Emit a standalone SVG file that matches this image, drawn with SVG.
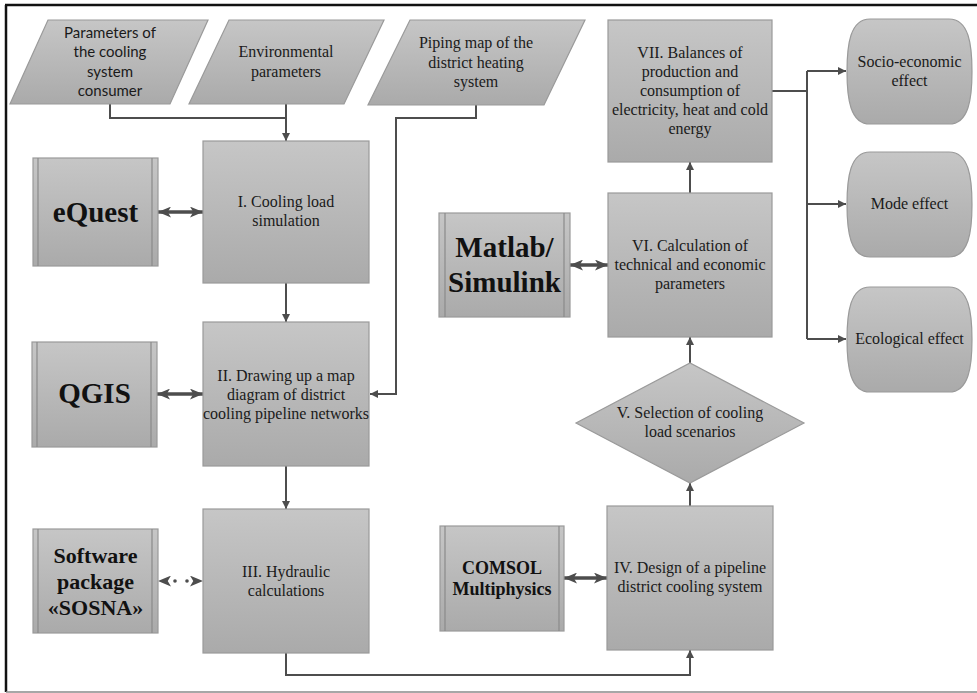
<svg xmlns="http://www.w3.org/2000/svg" width="977" height="693" viewBox="0 0 977 693">
<style>
.box{fill:url(#g);stroke:#9a9a9a;stroke-width:1.2}
.sw{fill:url(#g);stroke:#9a9a9a;stroke-width:1.2}
.in{stroke:#8a8a8a;stroke-width:1.2;fill:none}
.t{font-family:"Liberation Serif","Times New Roman",serif;font-size:16px;fill:#1a1a1a;text-anchor:middle}
.s{font-family:Lato,"Open Sans",sans-serif;font-size:15px;fill:#1a1a1a;text-anchor:middle}
.b{font-family:"Liberation Serif","Times New Roman",serif;font-weight:bold;fill:#111;text-anchor:middle}
.c{fill:none;stroke:#4d4d4d;stroke-width:2}
.d{fill:none;stroke:#4d4d4d;stroke-width:3.5}
</style>
<defs>
<linearGradient id="g" x1="0" y1="0" x2="0" y2="1">
<stop offset="0" stop-color="#c6c6c6"/>
<stop offset="1" stop-color="#aaaaaa"/>
</linearGradient>
<marker id="ah" viewBox="0 0 10 10" refX="10" refY="5" markerWidth="9" markerHeight="8" markerUnits="userSpaceOnUse" orient="auto">
<path d="M0,0 L10,5 L0,10 z" fill="#4d4d4d"/>
</marker>
<marker id="dh" viewBox="0 0 12 10" refX="12" refY="5" markerWidth="13" markerHeight="11" markerUnits="userSpaceOnUse" orient="auto-start-reverse">
<path d="M0,0 L12,5 L0,10 L3,5 z" fill="#4d4d4d"/>
</marker>
<path id="term" d="M23,0 H102 C122,0 125,26 125,52.5 C125,79 122,105 102,105 H23 C3,105 0,79 0,52.5 C0,26 3,0 23,0 Z"/>
</defs>
<rect width="977" height="693" fill="#ffffff"/>
<g id="frame">
<line x1="5" y1="5" x2="977" y2="5" stroke="#111" stroke-width="2.5"/>
<line x1="6" y1="5" x2="6" y2="692" stroke="#111" stroke-width="2.5"/>
<line x1="6" y1="692" x2="977" y2="692" stroke="#8a8a8a" stroke-width="1.5"/>
</g>
<g id="connectors">
<path class="c" d="M110,104 V118 H286"/>
<path class="c" d="M286,104 V141" marker-end="url(#ah)"/>
<path class="c" d="M286,283 V322" marker-end="url(#ah)"/>
<path class="c" d="M286,466 V509" marker-end="url(#ah)"/>
<path class="c" d="M476,105 V118 H396 V394 H370" marker-end="url(#ah)"/>
<path class="c" d="M286,653 V675 H690 V650" marker-end="url(#ah)"/>
<path class="c" d="M690,506 V483" marker-end="url(#ah)"/>
<path class="c" d="M690,363 V337" marker-end="url(#ah)"/>
<path class="c" d="M690,193 V162" marker-end="url(#ah)"/>
<path class="c" d="M772,91 H807"/>
<path class="c" d="M807,71 V339"/>
<path class="c" d="M807,71 H846" marker-end="url(#ah)"/>
<path class="c" d="M807,204 H846" marker-end="url(#ah)"/>
<path class="c" d="M807,339 H846" marker-end="url(#ah)"/>
<path class="d" d="M158,212 H203" marker-start="url(#dh)" marker-end="url(#dh)"/>
<path class="d" d="M157,394 H203" marker-start="url(#dh)" marker-end="url(#dh)"/>
<path class="d" d="M570,265 H608" marker-start="url(#dh)" marker-end="url(#dh)"/>
<path class="d" d="M564,578 H607" marker-start="url(#dh)" marker-end="url(#dh)"/>
<path d="M158,581 H203" stroke="none" fill="none" marker-start="url(#dh)" marker-end="url(#dh)"/>
<circle cx="175" cy="581" r="1.8" fill="#4d4d4d"/>
<circle cx="187" cy="581" r="1.8" fill="#4d4d4d"/>
</g>
<g id="in1">
<polygon class="box" points="48,20 208,20 170,104 10,104"/>
<text class="s" x="110" y="38">Parameters of</text>
<text class="s" x="110" y="57">the cooling</text>
<text class="s" x="110" y="77">system</text>
<text class="s" x="110" y="96">consumer</text>
</g>
<g id="in2">
<polygon class="box" points="229,20 384,20 344,104 189,104"/>
<text class="t" x="286" y="57">Environmental</text>
<text class="t" x="286" y="77">parameters</text>
</g>
<g id="in3">
<polygon class="box" points="410,20 585,20 544,105 368,105"/>
<text class="t" x="476" y="48">Piping map of the</text>
<text class="t" x="476" y="68">district heating</text>
<text class="t" x="476" y="87">system</text>
</g>
<g id="s1">
<rect class="box" x="203" y="141" width="166" height="142"/>
<text class="t" x="286" y="207">I. Cooling load</text>
<text class="t" x="286" y="226">simulation</text>
</g>
<g id="s2">
<rect class="box" x="203" y="322" width="166" height="144"/>
<text class="t" x="286" y="381">II. Drawing up a map</text>
<text class="t" x="286" y="400">diagram of district</text>
<text class="t" x="286" y="419">cooling pipeline networks</text>
</g>
<g id="s3">
<rect class="box" x="203" y="509" width="166" height="144"/>
<text class="t" x="286" y="577">III. Hydraulic</text>
<text class="t" x="286" y="596">calculations</text>
</g>
<g id="s4">
<rect class="box" x="607" y="506" width="166" height="144"/>
<text class="t" x="690" y="573">IV. Design of a pipeline</text>
<text class="t" x="690" y="592">district cooling system</text>
</g>
<g id="s5">
<polygon class="box" points="576,423 690,363 804,423 690,483"/>
<text class="t" x="690" y="418">V. Selection of cooling</text>
<text class="t" x="690" y="437">load scenarios</text>
</g>
<g id="s6">
<rect class="box" x="608" y="193" width="164" height="144"/>
<text class="t" x="690" y="251">VI. Calculation of</text>
<text class="t" x="690" y="270">technical and economic</text>
<text class="t" x="690" y="289">parameters</text>
</g>
<g id="s7">
<rect class="box" x="608" y="20" width="164" height="142"/>
<text class="t" x="690" y="58">VII. Balances of</text>
<text class="t" x="690" y="77">production and</text>
<text class="t" x="690" y="96">consumption of</text>
<text class="t" x="690" y="115">electricity, heat and cold</text>
<text class="t" x="690" y="134">energy</text>
</g>
<g id="equest">
<rect class="sw" x="33" y="158" width="125" height="108"/>
<path class="in" d="M38,158 V266 M152,158 V266"/>
<text class="b" x="95.5" y="222" font-size="29">eQuest</text>
</g>
<g id="qgis">
<rect class="sw" x="32" y="342" width="125" height="105"/>
<path class="in" d="M37,342 V447 M151,342 V447"/>
<text class="b" x="94.5" y="403" font-size="29">QGIS</text>
</g>
<g id="sosna">
<rect class="sw" x="33" y="529" width="125" height="104"/>
<path class="in" d="M38,529 V633 M152,529 V633"/>
<text class="b" x="95.5" y="563" font-size="22">Software</text>
<text class="b" x="95.5" y="589" font-size="22">package</text>
<text class="b" x="95.5" y="615" font-size="22">«SOSNA»</text>
</g>
<g id="matlab">
<rect class="sw" x="439" y="213" width="131" height="104"/>
<path class="in" d="M445,213 V317 M564,213 V317"/>
<text class="b" x="504.5" y="257" font-size="29">Matlab/</text>
<text class="b" x="504.5" y="292" font-size="29">Simulink</text>
</g>
<g id="comsol">
<rect class="sw" x="440" y="526" width="124" height="105"/>
<path class="in" d="M445,526 V631 M559,526 V631"/>
<text class="b" x="502" y="574" font-size="18">COMSOL</text>
<text class="b" x="502" y="595" font-size="18">Multiphysics</text>
</g>
<g id="e1">
<use href="#term" class="box" x="847" y="19"/>
<text class="t" x="909.5" y="67">Socio-economic</text>
<text class="t" x="909.5" y="86">effect</text>
</g>
<g id="e2">
<use href="#term" class="box" x="847" y="152"/>
<text class="t" x="909.5" y="209">Mode effect</text>
</g>
<g id="e3">
<use href="#term" class="box" x="847" y="287"/>
<text class="t" x="909.5" y="344">Ecological effect</text>
</g>
</svg>
